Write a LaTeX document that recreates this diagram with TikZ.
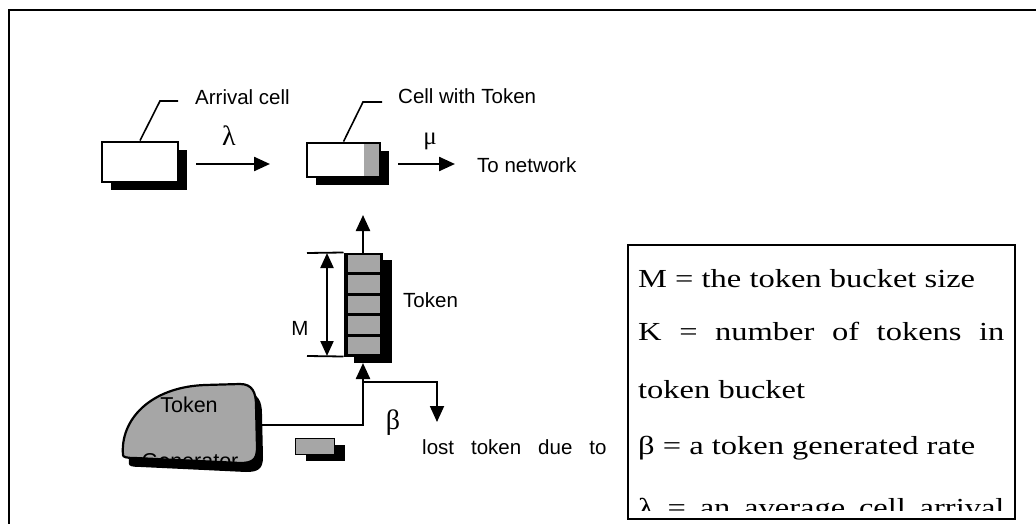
\documentclass[tikz,border=0pt]{standalone}
\usepackage{fontspec}
\setmainfont{Liberation Sans}
\newfontfamily\serifft{Liberation Serif}
\usetikzlibrary{arrows.meta,shadows,calc}
\begin{document}
\begin{tikzpicture}[x=1pt,y=-1pt,
  lbl/.style={font=\fontsize{20.5}{24}\selectfont, inner sep=0pt},
  conn/.style={line width=2.4pt, -{Triangle[length=16pt,width=14pt]}},
  lead/.style={line width=1.6pt},
  blackshadow/.style 2 args={drop shadow={opacity=1, fill=black, shadow xshift=#1pt, shadow yshift=-#2pt}},
  cellbox/.style={draw, line width=2.8pt, fill=white, inner sep=0pt, blackshadow={9}{8}},
  tokbox/.style={fill=black!35, inner sep=0pt},
  leg/.style={font=\serifft\fontsize{26}{30}\selectfont, anchor=base west, inner sep=0pt},
  greek/.style={font=\serifft\fontsize{28}{32}\selectfont, inner sep=0pt},
]
\useasboundingbox (0,0) rectangle (1036,524);
% outer frame
\coordinate (fTR) at (1036,10);
\coordinate (fTL) at (9,10);
\coordinate (fBL) at (9,524);
\draw[line width=2.5pt] (fBL) -- (fTL) -- (fTR);

% arrival cell
\node[cellbox, minimum width=76pt, minimum height=40pt] (arr) at (140,162) {};
\coordinate (la) at (160,101);
\coordinate (lae) at (178,101);
\draw[lead] (arr.north) -- (la) -- (lae);
\node[lbl, anchor=west] (arrlab) at (195,97) {Arrival cell};
\coordinate (a1) at (196,164);
\coordinate (a2) at (270,164);
\draw[conn] (a1) -- (a2);
\node[greek] (lam) at (229,136) {λ};

% cell with token
\node[cellbox, minimum width=73pt, minimum height=34pt,
  path picture={\fill[black!35] ($(path picture bounding box.north east)+(-16,0)$) rectangle (path picture bounding box.south east);}] (cwt) at (343.5,160) {};
\coordinate (lc) at (363,102);
\coordinate (lce) at (382,102);
\draw[lead] (cwt.north) -- (lc) -- (lce);
\node[lbl, anchor=west] (cwtlab) at (398,96) {Cell with Token};
\coordinate (b1) at (398,164);
\coordinate (b2) at (455,164);
\draw[conn] (b1) -- (b2);
\node[greek, font=\serifft\fontsize{25}{28}\selectfont] (mu) at (430,141) {μ};
\node[lbl, anchor=west] (net) at (477,165) {To network};

% bucket
\node[draw, fill=black, line width=1pt, minimum width=38pt, minimum height=103pt, inner sep=0pt, blackshadow={10}{7}] (bkt) at (363,304.5) {};
\foreach \i in {0,...,4}
  \node[tokbox, minimum width=32pt, minimum height=17.5pt] (tk\i) at (364,{263.3+20.6*\i}) {};
\coordinate (mt) at (307,253);
\coordinate (mb) at (307,356);
\draw[line width=1.8pt] (mt) -- (bkt.north west);
\draw[line width=1.8pt] (mb) -- (bkt.south west);
\coordinate (dt) at (327,253);
\coordinate (db) at (327,356);
\draw[line width=2.2pt, {Triangle[length=15pt,width=13pt]}-{Triangle[length=15pt,width=13pt]}] (dt) -- (db);
\node[lbl] (mlab) at (300,328) {M};
\node[lbl, anchor=west] (tklab) at (403,300) {Token};
\coordinate (upTip) at (363,215);
\draw[conn] (bkt.north) -- (upTip);

% token generator
\fill[black, shift={(6,9)}] (123,455) .. controls (120,420) and (150,387) .. (205,385) -- (240,384) .. controls (252,384) and (256,392) .. (256,405) -- (257,448) .. controls (257,460) and (252,463) .. (240,463) -- (135,458) .. controls (126,458) and (123,457) .. (123,455) -- cycle;
\draw[line width=2.2pt, fill=black!35] (123,455) .. controls (120,420) and (150,387) .. (205,385) -- (240,384) .. controls (252,384) and (256,392) .. (256,405) -- (257,448) .. controls (257,460) and (252,463) .. (240,463) -- (135,458) .. controls (126,458) and (123,457) .. (123,455) -- cycle;
\begin{scope}
\clip (123,455) .. controls (120,420) and (150,387) .. (205,385) -- (240,384) .. controls (252,384) and (256,392) .. (256,405) -- (257,448) .. controls (257,460) and (252,463) .. (240,463) -- (135,458) .. controls (126,458) and (123,457) .. (123,455) -- cycle;
\node[lbl, font=\fontsize{21.5}{24}\selectfont] (gtok) at (189,405) {Token};
\node[lbl, font=\fontsize{21.5}{24}\selectfont] (ggen) at (190,461) {Generator};
\end{scope}
\coordinate (genR) at (262,425);
\coordinate (bin) at (363,363);
\draw[conn] (genR) -| (bin);
\coordinate (junc) at (363,382);
\coordinate (lostTip) at (437,422);
\draw[conn, line width=1.8pt] (junc) -| (lostTip);
\node[greek] (beta) at (393,423) {β};
\node[lbl, anchor=west] (lost) at (422,447) {lost\hspace{17pt}token\hspace{17pt}due\hspace{17pt}to};
\node[tokbox, draw=black, line width=0.8pt, minimum width=39pt, minimum height=16pt, blackshadow={11}{7}] (smtk) at (314.5,446) {};

% legend
\node[draw, line width=1.5pt, minimum width=387pt, minimum height=274pt, inner sep=0pt] (legend) at (821.5,382) {};
\begin{scope}
\clip (628,245) rectangle (1015,510);
\node[leg] (lg1) at (638,287) {\scalebox{1.25}[1]{M = the token bucket size}};
\node[leg] (lg2) at (638,340) {\scalebox{1.25}[1]{\makebox[293pt][s]{K = number of tokens in}}};
\node[leg] (lg3) at (638,398) {\scalebox{1.25}[1]{token bucket}};
\node[leg] (lg4) at (638,454) {\scalebox{1.25}[1]{β = a token generated rate}};
\node[leg] (lg5) at (638,516) {\scalebox{1.25}[1]{\makebox[293pt][s]{λ = an average cell arrival}}};
\end{scope}
\end{tikzpicture}
\end{document}
